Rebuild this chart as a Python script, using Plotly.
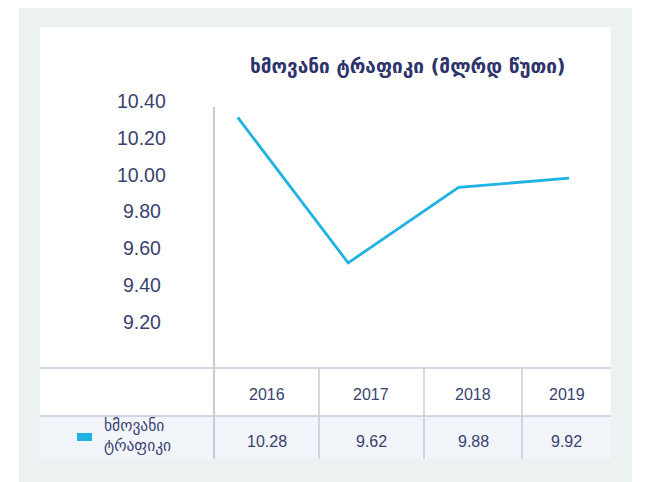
import plotly.graph_objects as go

W, H = 646, 482
OFFSET = 8  # page body margin the figure is drawn inside of

# ── Data ─────────────────────────────────────────────────────────────
TITLE = "ხმოვანი ტრაფიკი (მლრდ წუთი)"
SERIES_NAME = "ხმოვანი<br>ტრაფიკი"
years = [2016, 2017, 2018, 2019]
line_values = [10.31, 9.52, 9.93, 9.98]          # as drawn on the chart
table_values = ["10.28", "9.62", "9.88", "9.92"]  # as printed in the table
y_ticks = [10.40, 10.20, 10.00, 9.80, 9.60, 9.40, 9.20]

# ── Style ────────────────────────────────────────────────────────────
NAVY = "#2d336b"
TEXT = "#3a4270"
CYAN = "#1fb2e3"
GRID = "#c6cadb"
OUTER = "#ecf1f1"
ROW_BG = "#f1f5f9"
FONT = "Liberation Sans, Arial, sans-serif"
GEO_FONT = "DejaVu Sans, sans-serif"


def px(x):
    return (x - OFFSET) / W


def py(y):
    return 1 - (y - OFFSET) / H


def hline(y, x0, x1, width=1.5):
    return dict(type="line", xref="paper", yref="paper", x0=px(x0), x1=px(x1),
                y0=py(y), y1=py(y), line=dict(color=GRID, width=width), layer="below")


def vline(x, y0, y1, width=1.5):
    return dict(type="line", xref="paper", yref="paper", x0=px(x), x1=px(x),
                y0=py(y0), y1=py(y1), line=dict(color=GRID, width=width), layer="below")


def rect(x0, y0, x1, y1, color):
    return dict(type="rect", xref="paper", yref="paper", x0=px(x0), x1=px(x1),
                y0=py(y1), y1=py(y0), fillcolor=color, line=dict(width=0), layer="below")


fig = go.Figure()
fig.add_trace(go.Scatter(
    x=years, y=line_values, mode="lines",
    line=dict(color=CYAN, width=2.8),
    showlegend=False, hoverinfo="skip",
))

# plot area: x 214..611 px, y 90..368 px
PLOT_X0, PLOT_X1, PLOT_Y0, PLOT_Y1 = 214, 611, 90, 368
fig.update_layout(
    width=W, height=H,
    margin=dict(l=0, r=0, t=0, b=0),
    paper_bgcolor="white",
    plot_bgcolor="rgba(0,0,0,0)",
    xaxis=dict(domain=[px(PLOT_X0), px(PLOT_X1)], range=[2015.785, 2019.38],
               visible=False, fixedrange=True),
    yaxis=dict(domain=[py(PLOT_Y1), py(PLOT_Y0)], range=[8.949, 10.459],
               visible=False, fixedrange=True),
    font=dict(family=FONT, color=TEXT),
)

# table column boundaries (px)
col_edges = [214, 319, 424, 522, 611]

shapes = [
    rect(19, 4, 632, 490, OUTER),
    rect(40, 27, 611, 459, "white"),
    rect(40, 416, 611, 459, ROW_BG),
    hline(368, 40, 611),
    hline(416, 40, 611),
    vline(214, 107, 459, width=2),
]
for x in col_edges[1:-1]:
    shapes.append(vline(x, 368, 459))
# legend swatch
shapes.append(dict(type="rect", xref="paper", yref="paper",
                   x0=px(77), x1=px(92), y0=py(441), y1=py(433),
                   fillcolor=CYAN, line=dict(width=0)))
fig.update_layout(shapes=shapes)

ann = []
ann.append(dict(text=f"<b>{TITLE}</b>", xref="paper", yref="paper",
                x=px(408), y=py(66), showarrow=False, xanchor="center", yanchor="middle",
                font=dict(family=GEO_FONT, size=19, color=NAVY)))
for t in y_ticks:
    ann.append(dict(text=f"{t:.2f}", xref="paper", yref="y", x=px(141.5), y=t,
                    showarrow=False, xanchor="center", yanchor="middle",
                    font=dict(size=19.5, color=TEXT)))
for i, (yr, val) in enumerate(zip(years, table_values)):
    cx = (col_edges[i] + col_edges[i + 1]) / 2
    ann.append(dict(text=str(yr), xref="paper", yref="paper", x=px(cx), y=py(394),
                    showarrow=False, xanchor="center", yanchor="middle",
                    font=dict(size=16, color=TEXT)))
    ann.append(dict(text=val, xref="paper", yref="paper", x=px(cx), y=py(441),
                    showarrow=False, xanchor="center", yanchor="middle",
                    font=dict(size=16, color=TEXT)))
ann.append(dict(text=SERIES_NAME, xref="paper", yref="paper", x=px(102), y=py(436),
                showarrow=False, xanchor="left", yanchor="middle", align="left",
                font=dict(family=GEO_FONT, size=15.5, color=TEXT)))
fig.update_layout(annotations=ann)

fig.write_html("out.html")
